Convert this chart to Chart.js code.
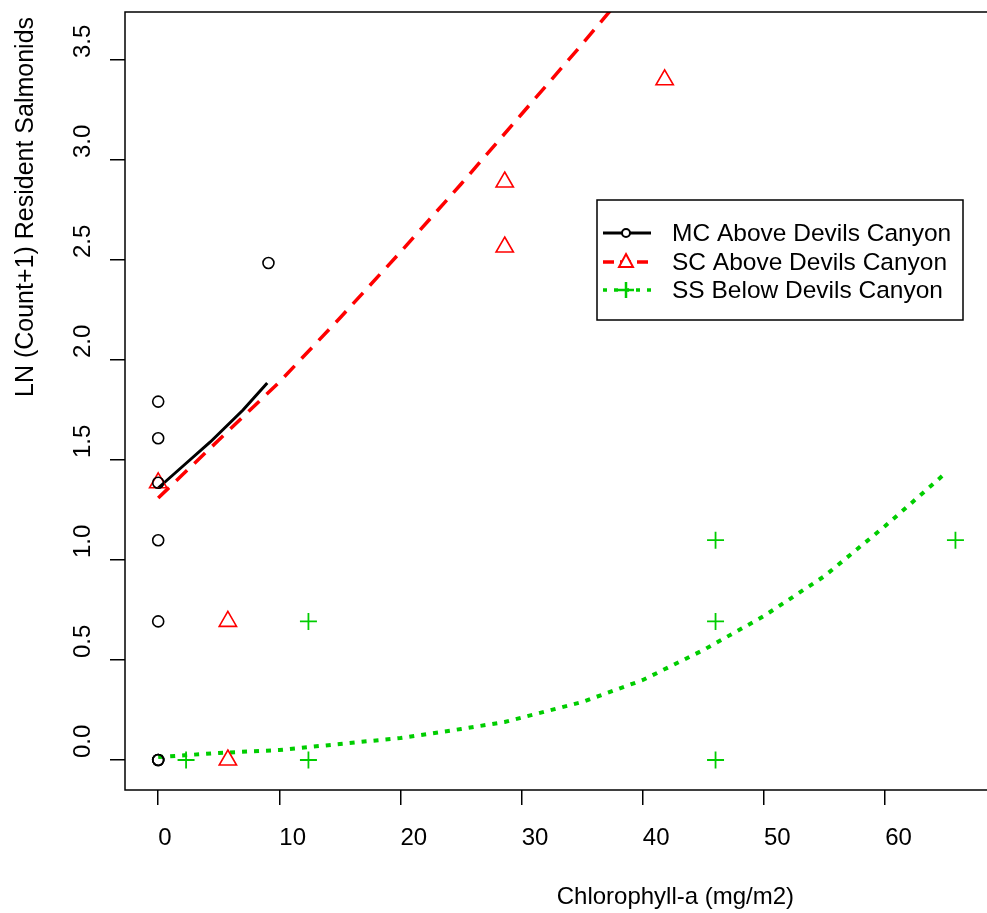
<!DOCTYPE html>
<html>
<head>
<meta charset="utf-8">
<script src="https://cdn.jsdelivr.net/npm/chart.js@4.4.0/dist/chart.umd.min.js"></script>
<style>
  html, body { margin: 0; padding: 0; background: #fff; overflow: hidden; }
  #wrap { width: 1000px; height: 913px; }
</style>
</head>
<body>
<div id="wrap"><canvas id="chart" width="1000" height="913"></canvas></div>
<script>
// observed points, ln(count+1) vs chlorophyll-a
const mcX = [0, 0, 0, 0, 0, 0, 0, 0, 9.1];
const mcY = [0, 0, 0, 0.693, 1.099, 1.386, 1.609, 1.792, 2.485];
const scX = [0, 5.75, 5.75, 28.6, 28.6, 41.8];
const scY = [1.386, 0.693, 0, 2.890, 2.565, 3.401];
const ssX = [2.3, 12.4, 12.4, 46.0, 46.0, 46.0, 65.8];
const ssY = [0, 0.693, 0, 1.099, 0.693, 0, 1.099];

// fitted curves
const mcFitX = [0, 2.05, 4.3, 7.0, 9.0];
const mcFitY = [1.36, 1.47, 1.59, 1.75, 1.885];
const scFitX = [0, 5, 10, 15, 20, 25, 30, 35, 40];
const scFitY = [1.31, 1.60, 1.89, 2.21, 2.54, 2.88, 3.23, 3.58, 3.94];
const ssFitX = [0, 5, 10, 15, 20, 25, 28.6, 35, 40, 45, 50, 55, 60, 64.9];
const ssFitY = [0.015, 0.035, 0.05, 0.08, 0.11, 0.155, 0.19, 0.29, 0.40, 0.55, 0.72, 0.92, 1.17, 1.43];

const xTicks = [0, 10, 20, 30, 40, 50, 60];
const yTicks = [0, 0.5, 1, 1.5, 2, 2.5, 3, 3.5];
const seriesNames = ['MC Above Devils Canyon', 'SC Above Devils Canyon', 'SS Below Devils Canyon'];

const RED = '#ff0000';
const GREEN = '#00cd00';
const FONT = '"Liberation Sans", Arial, sans-serif';

const pts = (xs, ys) => xs.map((x, i) => ({ x: x, y: ys[i] }));

const boxAndText = {
    id: 'boxAndText',
    afterDraw(chart) {
        const ctx = chart.ctx;
        const a = chart.chartArea;
        const ys = chart.scales.y;
        ctx.save();
        ctx.strokeStyle = '#000';
        ctx.lineWidth = 1.5;
        ctx.strokeRect(a.left, a.top, a.right - a.left, a.bottom - a.top);

        // y tick labels, rotated, starting at the tick
        ctx.fillStyle = '#000';
        ctx.font = '24px ' + FONT;
        ctx.textAlign = 'left';
        ctx.textBaseline = 'alphabetic';
        yTicks.forEach(v => {
            const py = ys.getPixelForValue(v);
            ctx.save();
            ctx.translate(90, py - 2);
            ctx.rotate(-Math.PI / 2);
            ctx.fillText(v.toFixed(1), 0, 0);
            ctx.restore();
        });

        // axis titles
        const midX = (a.left + a.right) / 2;
        const midY = (a.top + a.bottom) / 2;
        ctx.fillText('Chlorophyll-a (mg/m2)', midX, 904);
        ctx.save();
        ctx.font = '25px ' + FONT;
        ctx.translate(33, midY - 4);
        ctx.rotate(-Math.PI / 2);
        ctx.fillText('LN (Count+1) Resident Salmonids', 0, 0);
        ctx.restore();

        // legend
        const L = { left: 597, top: 200, right: 963, bottom: 320 };
        ctx.fillStyle = '#fff';
        ctx.fillRect(L.left, L.top, L.right - L.left, L.bottom - L.top);
        ctx.strokeStyle = '#000';
        ctx.lineWidth = 1.5;
        ctx.strokeRect(L.left, L.top, L.right - L.left, L.bottom - L.top);
        const rowsY = [233, 262, 290];
        const styles = [
            { color: '#000', width: 3, dash: [], marker: 'circle' },
            { color: RED, width: 3.5, dash: [11, 6], marker: 'triangle' },
            { color: GREEN, width: 3.5, dash: [4, 7], marker: 'plus' }
        ];
        ctx.font = '24.5px ' + FONT;
        seriesNames.forEach((name, i) => {
            const s = styles[i];
            const y = rowsY[i];
            ctx.strokeStyle = s.color;
            ctx.lineWidth = s.width;
            ctx.setLineDash(s.dash);
            ctx.beginPath();
            ctx.moveTo(603, y);
            ctx.lineTo(651, y);
            ctx.stroke();
            ctx.setLineDash([]);
            ctx.lineWidth = 2;
            const cx = 626;
            ctx.beginPath();
            if (s.marker === 'circle') {
                ctx.fillStyle = '#fff';
                ctx.arc(cx, y, 4, 0, Math.PI * 2);
                ctx.fill();
                ctx.stroke();
            } else if (s.marker === 'triangle') {
                ctx.fillStyle = '#fff';
                ctx.moveTo(cx, y - 8);
                ctx.lineTo(cx + 7, y + 5);
                ctx.lineTo(cx - 7, y + 5);
                ctx.closePath();
                ctx.fill();
                ctx.stroke();
            } else {
                ctx.lineWidth = 2.5;
                ctx.moveTo(cx - 8, y);
                ctx.lineTo(cx + 8, y);
                ctx.moveTo(cx, y - 8);
                ctx.lineTo(cx, y + 8);
                ctx.stroke();
            }
            ctx.fillStyle = '#000';
            ctx.textBaseline = 'middle';
            ctx.fillText(name, 672, y + 1);
        });
        ctx.restore();
    }
};

new Chart(document.getElementById('chart'), {
    type: 'scatter',
    data: {
        datasets: [
            {
                label: seriesNames[0] + ' points',
                data: pts(mcX, mcY),
                pointStyle: 'circle',
                pointRadius: 5.5,
                borderColor: '#000',
                backgroundColor: 'rgba(0,0,0,0)',
                pointBorderWidth: 1.6
            },
            {
                label: seriesNames[1] + ' points',
                data: pts(scX, scY),
                pointStyle: 'triangle',
                pointRadius: 10,
                borderColor: RED,
                backgroundColor: 'rgba(0,0,0,0)',
                pointBorderWidth: 1.6
            },
            {
                label: seriesNames[2] + ' points',
                data: pts(ssX, ssY),
                pointStyle: 'cross',
                pointRadius: 8.5,
                borderColor: GREEN,
                backgroundColor: GREEN,
                pointBorderWidth: 1.8
            },
            {
                label: seriesNames[0],
                data: pts(mcFitX, mcFitY),
                showLine: true,
                pointRadius: 0,
                borderColor: '#000',
                borderWidth: 3
            },
            {
                label: seriesNames[1],
                data: pts(scFitX, scFitY),
                showLine: true,
                pointRadius: 0,
                borderColor: RED,
                borderWidth: 3.5,
                borderDash: [15, 10]
            },
            {
                label: seriesNames[2],
                data: pts(ssFitX, ssFitY),
                showLine: true,
                pointRadius: 0,
                borderColor: GREEN,
                borderWidth: 4,
                borderDash: [5, 7]
            }
        ]
    },
    options: {
        responsive: false,
        animation: false,
        layout: { padding: { left: 0, top: 12, right: 7, bottom: 0 } },
        plugins: {
            legend: { display: false },
            tooltip: { enabled: false }
        },
        scales: {
            x: {
                type: 'linear',
                min: -2.74,
                max: 68.52,
                afterFit: s => { s.height = 123; },
                afterBuildTicks: s => { s.ticks = xTicks.map(v => ({ value: v })); },
                border: { display: false },
                grid: { drawOnChartArea: false, drawTicks: true, tickLength: 15, color: '#000', lineWidth: 1.5 },
                ticks: {
                    align: 'start',
                    padding: 19,
                    color: '#000',
                    font: { family: FONT, size: 24 },
                    callback: v => String(v)
                }
            },
            y: {
                type: 'linear',
                min: -0.15,
                max: 3.74,
                afterFit: s => { s.width = 125; },
                afterBuildTicks: s => { s.ticks = yTicks.map(v => ({ value: v })); },
                border: { display: false },
                grid: { drawOnChartArea: false, drawTicks: true, tickLength: 15, color: '#000', lineWidth: 1.5 },
                ticks: { color: 'rgba(0,0,0,0)', font: { family: FONT, size: 1 } }
            }
        }
    },
    plugins: [boxAndText]
});
</script>
</body>
</html>
